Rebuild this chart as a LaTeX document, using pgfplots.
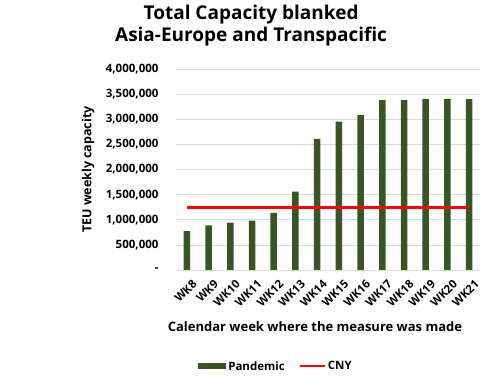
\documentclass[border=0pt]{standalone}
\usepackage{fontspec}
\setmainfont{Open Sans}
\usepackage{pgfplots}
\pgfplotsset{compat=1.18}
\definecolor{bargreen}{HTML}{375623}
\definecolor{gridgray}{HTML}{D9D9D9}
\begin{document}
\begin{tikzpicture}[x=1pt,y=1pt]
\path[use as bounding box] (-176pt,-115pt) rectangle (324pt,270pt);
\begin{axis}[
  at={(0,0)}, anchor=south west,
  scale only axis, width=304pt, height=201pt,
  xmin=-0.5, xmax=13.5, ymin=0, ymax=4000000,
  scaled y ticks=false,
  axis x line*=bottom, axis y line*=left,
  x axis line style={draw=gridgray, line width=0.8pt, -},
  y axis line style={draw=none},
  ytick={0,500000,...,4000000},
  yticklabels={-,{500,000},{1,000,000},{1,500,000},{2,000,000},{2,500,000},{3,000,000},{3,500,000},{4,000,000}},
  ymajorgrids, grid style={gridgray, line width=0.6pt},
  major tick length=0pt,
  xtick={0,...,13},
  xticklabels={WK8,WK9,WK10,WK11,WK12,WK13,WK14,WK15,WK16,WK17,WK18,WK19,WK20,WK21},
  xticklabel style={rotate=45, anchor=east, font=\fontsize{11.5}{13}\selectfont\bfseries, inner sep=0pt, xshift=-3pt, yshift=-14pt},
  yticklabel style={font=\fontsize{11.5}{13}\selectfont\bfseries, anchor=east, xshift=-14pt},
  ylabel={TEU weekly capacity},
  ylabel style={at={(axis description cs:-0.289,0.5)}, anchor=center, rotate=0, font=\fontsize{12.5}{14}\selectfont\bfseries},
  xlabel={Calendar week where the measure was made},
  xlabel style={at={(axis description cs:0.457,-0.284)}, anchor=center, font=\fontsize{13}{15}\selectfont\bfseries},
  legend columns=2,
  legend style={draw=none, at={(axis description cs:0.329,-0.48)}, anchor=center, font=\fontsize{11.5}{13}\selectfont\bfseries, /tikz/every even column/.append style={column sep=12pt}},
  clip=false,
]
\addplot[ybar, bar width=6.5pt, fill=bargreen, draw=none,
  legend image code/.code={\fill[bargreen] (0pt,-3pt) rectangle (28pt,3pt);}]
  coordinates {(0,775000) (1,886000) (2,945000) (3,985000) (4,1137000) (5,1560000) (6,2610000) (7,2955000) (8,3080000) (9,3380000) (10,3380000) (11,3400000) (12,3400000) (13,3400000)};
\addlegendentry{Pandemic}
\addplot[red, line width=2.8pt, mark=none,
  legend image code/.code={\draw[red, line width=2pt] (0pt,0pt) -- (25pt,0pt);}]
  coordinates {(0,1240000) (1,1240000) (2,1240000) (3,1240000) (4,1240000) (5,1240000) (6,1240000) (7,1240000) (8,1240000) (9,1240000) (10,1240000) (11,1240000) (12,1240000) (13,1240000)};
\addlegendentry{CNY}
\node[align=center, font=\fontsize{19}{22}\selectfont\bfseries] at (axis description cs:0.247,1.214) {Total Capacity blanked\\Asia-Europe and Transpacific};
\end{axis}
\end{tikzpicture}
\end{document}
